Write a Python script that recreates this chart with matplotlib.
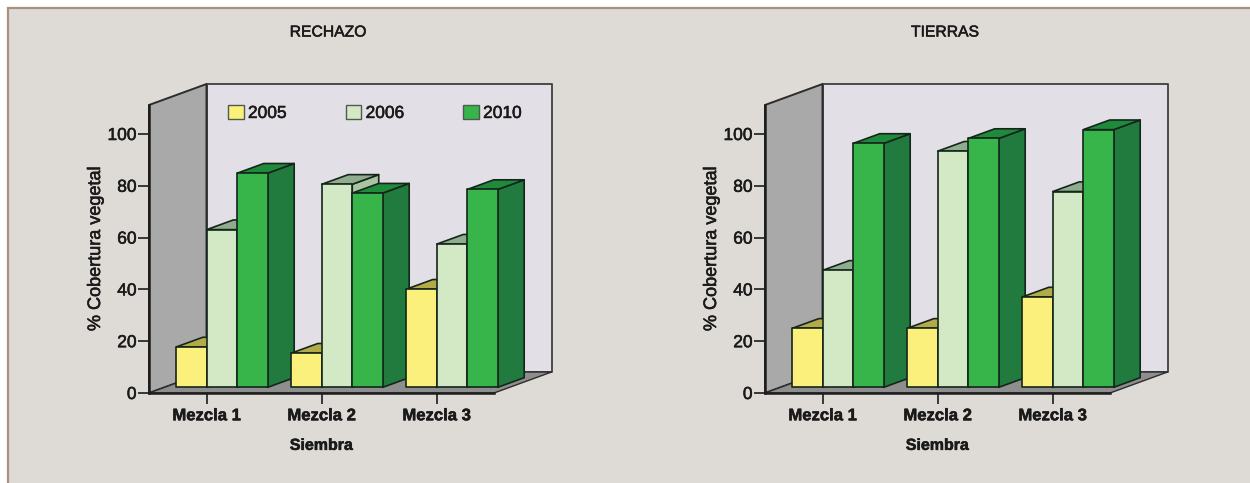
import matplotlib
matplotlib.use("Agg")
from matplotlib import pyplot as plt
from matplotlib import patheffects
from matplotlib.patches import Patch, Polygon, Rectangle
from matplotlib.text import Text

plt.rcParams['font.family'] = ['Liberation Sans', 'DejaVu Sans']

categories = ["Mezcla 1", "Mezcla 2", "Mezcla 3"]
years = ["2005", "2006", "2010"]
rechazo = [
    [15.6, 13.2, 37.9],
    [60.9, 78.4, 55.3],
    [82.7, 75.0, 76.4],
]
tierras = [
    [22.8, 22.8, 34.9],
    [45.2, 91.2, 75.6],
    [94.2, 96.1, 99.5],
]
y_ticks = [0, 20, 40, 60, 80, 100]

front_colors = ["#fbf07c", "#d3e9c6", "#37b54a"]
top_colors = ["#b3aa4a", "#8fad8c", "#1f8a3c"]
side_colors = ["#a89f45", "#a9c4a3", "#217b3e"]
edge = "#14261a"

# oblique projection: depth 0..1 shifts a point right and up
depth_x = 0.5
depth_y = 8.1
y_top = 111.2
bar_width = 0.265
bar_depth = (0.27, 0.73)

W, H = 1250, 483


def project(x, y, d):
    return (x + d * depth_x, y + d * depth_y)


def face(ax, points, color, ec=edge, lw=1.2, z=2):
    poly = Polygon([project(*p) for p in points], closed=True, facecolor=color,
                   edgecolor=ec, linewidth=lw, clip_on=False, zorder=z, joinstyle="round")
    ax.add_patch(poly)


def draw_bar(ax, x0, value, series):
    x1 = x0 + bar_width
    d0, d1 = bar_depth
    face(ax, [(x1, 0, d0), (x1, 0, d1), (x1, value, d1), (x1, value, d0)], side_colors[series])
    face(ax, [(x0, value, d0), (x1, value, d0), (x1, value, d1), (x0, value, d1)], top_colors[series])
    face(ax, [(x0, 0, d0), (x1, 0, d0), (x1, value, d0), (x0, value, d0)], front_colors[series])


def draw_panel(left_px, title, title_x, values):
    ax = fig.add_axes([left_px / W, (H - 393) / H, 345 / W, 288 / H])
    ax.set_xlim(0, 3)
    ax.set_ylim(0, y_top)
    ax.patch.set_visible(False)
    for name in ["top", "right"]:
        ax.spines[name].set_visible(False)
    for name in ["left", "bottom"]:
        ax.spines[name].set_linewidth(1.8)
        ax.spines[name].set_color("#1c1c1c")
        ax.spines[name].set_zorder(5)

    # walls and floor
    face(ax, [(0, 0, 1), (3, 0, 1), (3, y_top, 1), (0, y_top, 1)], "#e2e0e6", ec="#4a4a4a", lw=1.4, z=1)
    face(ax, [(0, 0, 0), (0, 0, 1), (0, y_top, 1), (0, y_top, 0)], "#a9a9aa", ec="#2c2c2c", lw=1.4, z=1)
    face(ax, [(0, 0, 0), (3, 0, 0), (3, 0, 1), (0, 0, 1)], "#8e8e8e", ec="#2c2c2c", lw=1.0, z=1)

    for cat in range(len(categories)):
        start = cat + 0.5 - 1.5 * bar_width
        for series in range(len(years)):
            draw_bar(ax, start + series * bar_width, values[series][cat], series)

    ax.set_xticks([i + 0.5 for i in range(len(categories))])
    ax.set_xticklabels(categories, fontsize=12, fontweight="bold", color="#1a1a1a")
    ax.set_yticks(y_ticks)
    ax.tick_params(axis="x", length=8, width=1.2, pad=3, color="#1c1c1c")
    ax.tick_params(axis="y", length=8, width=1.2, pad=1, labelsize=12.5, color="#1c1c1c", labelcolor="#1a1a1a")
    ax.set_xlabel("Siembra", fontsize=11.5, fontweight="bold", color="#1a1a1a", labelpad=10.5)
    ax.set_ylabel("% Cobertura vegetal", fontsize=13, color="#1a1a1a", labelpad=2.5)
    fig.text(title_x / W, 1 - 32 / H, title, fontsize=11.3, ha="center", va="center", color="#1a1a1a")
    return ax


fig = plt.figure(figsize=(12.5, 4.83), dpi=100, facecolor="white")
fig.patches.append(Rectangle((8 / W, -0.01), 1.1, 1 - 8 / H + 0.01, transform=fig.transFigure,
                             facecolor="#dedbd6", edgecolor="#a8917f", linewidth=1.6, figure=fig, zorder=-1))

ax1 = draw_panel(149, "RECHAZO", 328, rechazo)
ax2 = draw_panel(765, "TIERRAS", 945, tierras)

handles = [Patch(facecolor=c, edgecolor="#4d5a4d", linewidth=1.0) for c in front_colors]
ax1.legend(handles, years, ncol=3, frameon=False, fontsize=12.5, loc="upper left",
           bbox_to_anchor=(228 / W, 1 - 105 / H), bbox_transform=fig.transFigure,
           borderpad=0, borderaxespad=0, handlelength=0.9, handleheight=0.85,
           handletextpad=0.25, columnspacing=3.4, labelcolor="#1a1a1a")

# slightly heavier lettering on every label
for txt in fig.findobj(Text):
    txt.set_path_effects([patheffects.withStroke(linewidth=0.4, foreground="#1a1a1a")])

fig.savefig("out.png", dpi=100, facecolor=fig.get_facecolor())
plt.close(fig)
